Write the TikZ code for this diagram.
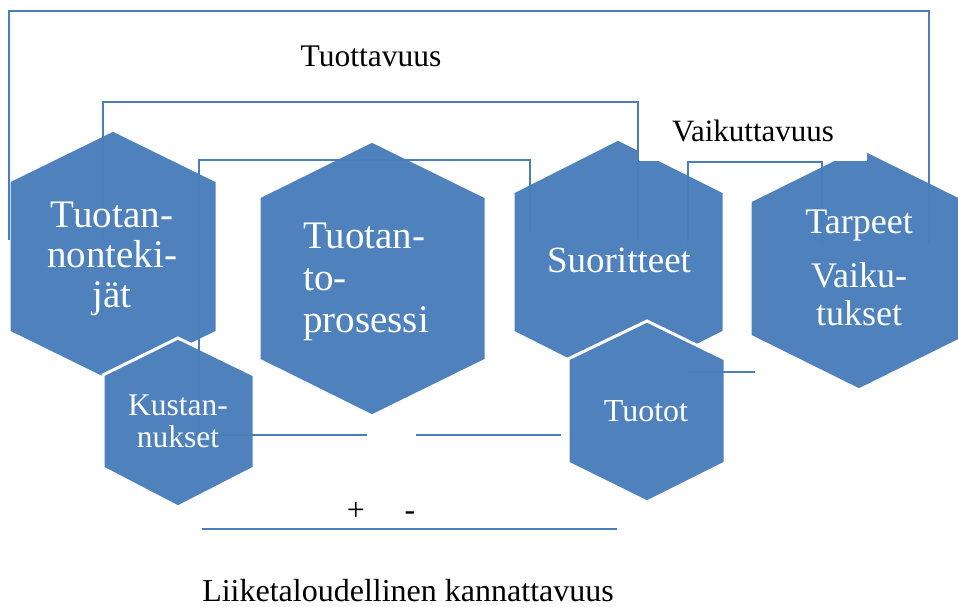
\documentclass[tikz,border=0pt]{standalone}
\usepackage{fontspec}
\setmainfont{Liberation Serif}
\definecolor{hexblue}{RGB}{79,129,189}
\definecolor{linblue}{RGB}{74,126,187}
\begin{document}
\begin{tikzpicture}[x=1pt,y=-1pt,
  hex/.style={fill=hexblue, draw=white, line width=3pt, line join=miter},
  brk/.style={draw=linblue, line width=1.6pt},
  hlab/.style={text=white, inner sep=0pt, align=center},
  lab/.style={text=black, inner sep=0pt}]
\path[use as bounding box, clip] (0,0) rectangle (958,607);
% hexagons
\path[hex] (113,130) -- (217,181) -- (217,332) -- (113,383) -- (9,332) -- (9,181) -- cycle;
\path[hex] (372,141) -- (486,197) -- (486,360) -- (372,416) -- (259,360) -- (259,197) -- cycle;
\path[hex] (618,139) -- (724,192) -- (724,332) -- (618,385) -- (513,332) -- (513,192) -- cycle;
\path[hex] (859,147) -- (968,201) -- (968,336) -- (859,390) -- (750,336) -- (750,201) -- cycle;
\path[hex] (178,338) -- (254,375) -- (254,468) -- (178,507) -- (103,468) -- (103,375) -- cycle;
\path[hex] (647,321) -- (725,359) -- (725,463) -- (647,502) -- (568,463) -- (568,359) -- cycle;
% white label box
\fill[white] (637,108) rectangle (867,161);
% coordinates
\coordinate (o1) at (9,240);   \coordinate (o2) at (9,11);
\coordinate (o3) at (929,11);  \coordinate (o4) at (929,243);
\coordinate (p1) at (103,240); \coordinate (p2) at (103,102);
\coordinate (p3) at (638,102); \coordinate (p4) at (638,240);
\coordinate (q1) at (530,233); \coordinate (q2) at (530,160);
\coordinate (q3) at (199,160); \coordinate (q4) at (199,435);
\coordinate (q5) at (367,435);
\coordinate (r1) at (416,435); \coordinate (r2) at (561,435);
\coordinate (v1) at (688,242); \coordinate (v2) at (688,162);
\coordinate (v3) at (822,162); \coordinate (v4) at (822,242);
\coordinate (w1) at (688,372); \coordinate (w2) at (755,372);
\coordinate (b1) at (202,529); \coordinate (b2) at (617,529);
% lines
\draw[brk] (o1) -- (o2) -- (o3) -- (o4);
\draw[brk] (p1) -- (p2) -- (p3) -- (p4);
\draw[brk] (q1) -- (q2) -- (q3) -- (q4) -- (q5);
\draw[brk] (r1) -- (r2);
\draw[brk] (v1) -- (v2) -- (v3) -- (v4);
\draw[brk] (w1) -- (w2);
\draw[brk] (b1) -- (b2);
% hexagon texts (anchor=base is the baseline of the last line)
\node[hlab, anchor=base, font=\fontsize{39}{40}\selectfont] (t1) at (112,307) {Tuotan-\\nonteki-\\jät};
\node[hlab, align=left, anchor=base west, font=\fontsize{39}{42}\selectfont] (t2) at (303,332) {Tuotan-\\to-\\prosessi};
\node[hlab, anchor=base, font=\fontsize{37}{40}\selectfont] (t3) at (619,272) {Suoritteet};
\node[hlab, anchor=base, font=\fontsize{36}{38}\selectfont] (t4) at (859,325) {Tarpeet\\[16pt]Vaiku-\\tukset};
\node[hlab, anchor=base, font=\fontsize{31.5}{32}\selectfont] (t5) at (178,447) {Kustan-\\nukset};
\node[hlab, anchor=base, font=\fontsize{32}{34}\selectfont] (t6) at (646,421) {Tuotot};
% labels
\node[lab, anchor=base, font=\fontsize{31.5}{34}\selectfont] (l1) at (371,67) {Tuottavuus};
\node[lab, anchor=base, font=\fontsize{31}{34}\selectfont] (l2) at (753,142) {Vaikuttavuus};
\node[lab, anchor=base, font=\fontsize{32}{34}\selectfont] (l3) at (356,520) {+};
\node[lab, anchor=base, font=\fontsize{32}{34}\selectfont] (l4) at (410,520) {-};
\node[lab, anchor=base, font=\fontsize{32}{34}\selectfont] (l5) at (408,601) {Liiketaloudellinen kannattavuus};
\end{tikzpicture}
\end{document}
